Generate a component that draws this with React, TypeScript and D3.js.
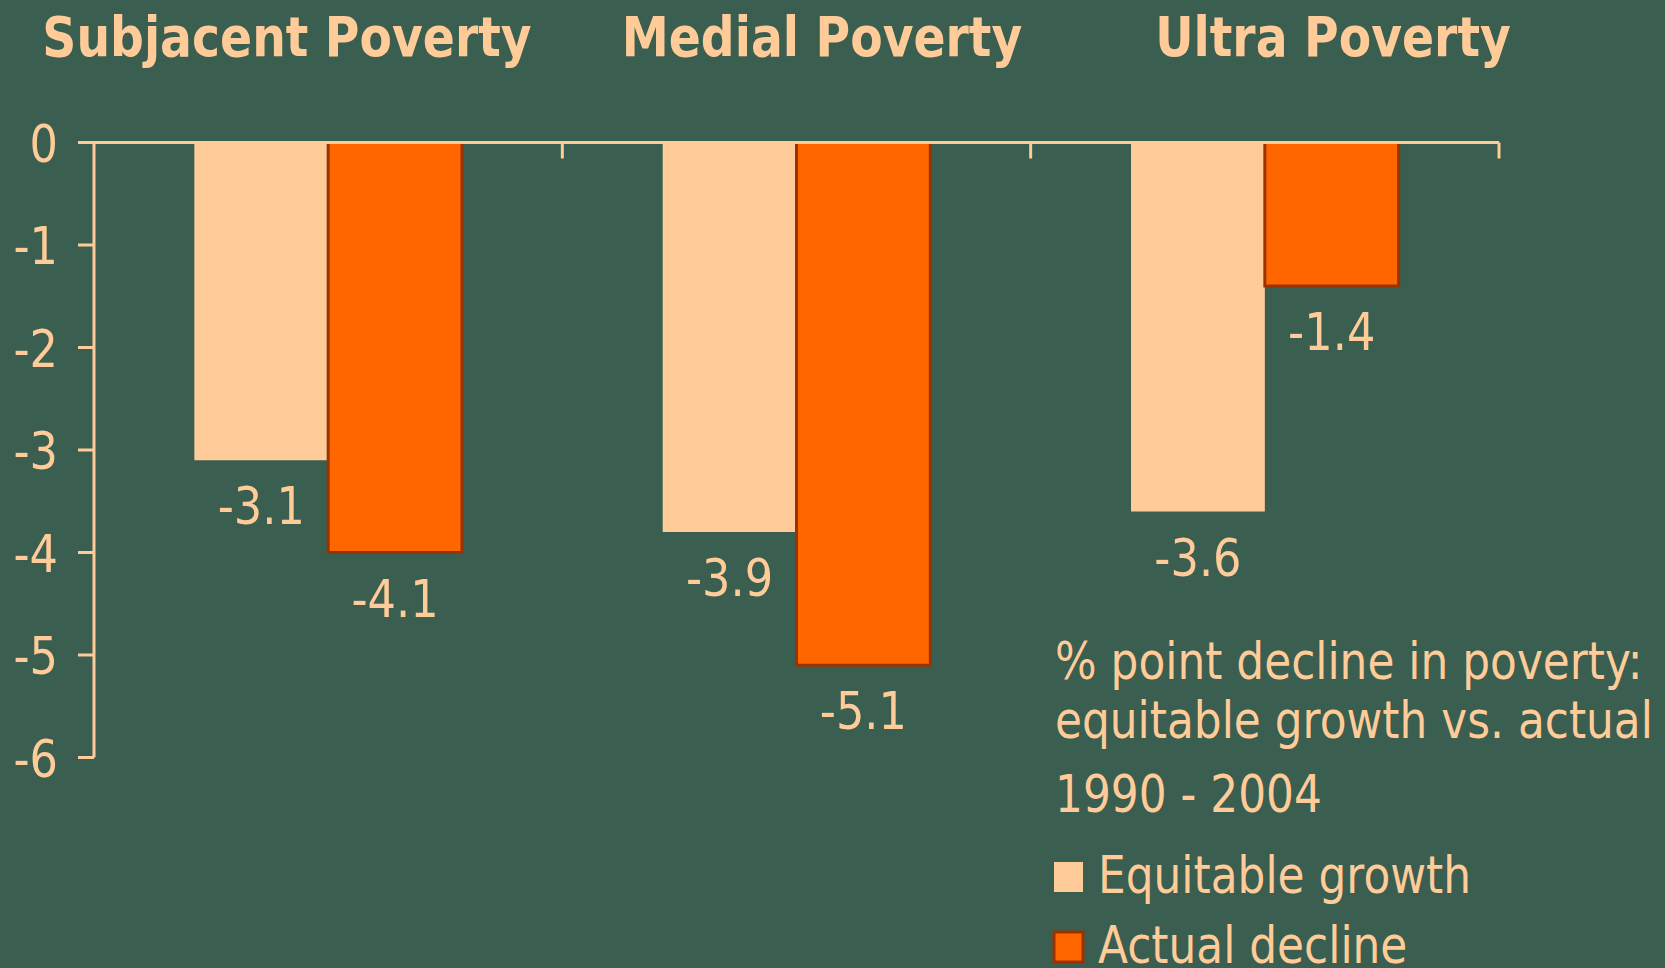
import React from "react";
import * as d3 from "d3";

const width = 1665;
const height = 968;

// chart data
const categories = ["Subjacent Poverty", "Medial Poverty", "Ultra Poverty"];
const seriesNames = ["Equitable growth", "Actual decline"];
const equitableValues = [-3.1, -3.8, -3.6];
const actualValues = [-4.0, -5.1, -1.4];
// data labels as printed on the slide
const equitableLabels = ["-3.1", "-3.9", "-3.6"];
const actualLabels = ["-4.1", "-5.1", "-1.4"];
const yTicks = [0, -1, -2, -3, -4, -5, -6];
const noteLines = [
  "% point decline in poverty:",
  "equitable growth vs. actual",
  "1990 - 2004",
];

const bg = "#3a5e50";
const ink = "#ffcc99";
const fills = ["#ffcc99", "#ff6600"];
const strokes = ["none", "#993300"];
const font = "'DejaVu Sans', Verdana, sans-serif";
const squeeze = 0.86; // the slide text is horizontally compressed

const margin = { left: 94, right: 1499, top: 142.5, bottom: 757.5 };

const T = ({ x, y, size, anchor = "start", bold = false, children }) => (
  <text
    transform={`translate(${x},${y}) scale(${squeeze},1)`}
    textAnchor={anchor}
    fontFamily={font}
    fontSize={size}
    fontWeight={bold ? "bold" : "normal"}
    fill={ink}
  >
    {children}
  </text>
);

export default function App() {
  const x0 = d3
    .scaleBand()
    .domain(categories)
    .range([margin.left, margin.right])
    .padding(0);
  // excel style gap width of 150%
  const barW = x0.bandwidth() / 3.5;
  const x1 = d3
    .scaleBand()
    .domain(seriesNames)
    .range([0, barW * 2])
    .padding(0);
  const y = d3.scaleLinear().domain([0, -6]).range([margin.top, margin.bottom]);

  const series = [
    { name: seriesNames[0], values: equitableValues, labels: equitableLabels },
    { name: seriesNames[1], values: actualValues, labels: actualLabels },
  ];

  // title positions follow the slide's text boxes, not the categories
  const titleX = [287, 822, 1333];
  const noteBase = [679, 738, 812];
  const legendBase = [893, 963];

  return (
    <div style={{ position: "fixed", left: 0, top: 0, width, height, background: bg }}>
      <svg width={width} height={height} style={{ display: "block" }}>
        <rect width={width} height={height} fill={bg} />

        {categories.map((c, i) => (
          <T key={c} x={titleX[i]} y={56} size={55} anchor="middle" bold>
            {c}
          </T>
        ))}

        {series.map((s, si) =>
          categories.map((c, ci) => {
            const v = s.values[ci];
            const bx = x0(c) + barW * 0.75 + x1(s.name);
            const yb = y(v);
            return (
              <g key={s.name + c}>
                <rect
                  x={bx}
                  y={y(0)}
                  width={x1.bandwidth()}
                  height={yb - y(0)}
                  fill={fills[si]}
                  stroke={strokes[si]}
                  strokeWidth={3}
                />
                <T x={bx + x1.bandwidth() / 2} y={yb + 64} size={52} anchor="middle">
                  {s.labels[ci]}
                </T>
              </g>
            );
          })
        )}

        {/* y axis */}
        <line x1={margin.left} x2={margin.left} y1={y(0)} y2={y(-6)} stroke={ink} strokeWidth={3} />
        {yTicks.map((t) => (
          <g key={t}>
            <line x1={margin.left - 16} x2={margin.left} y1={y(t)} y2={y(t)} stroke={ink} strokeWidth={3} />
            <T x={58} y={y(t) + 19} size={52} anchor="end">
              {t === 0 ? "0" : "-" + Math.abs(t)}
            </T>
          </g>
        ))}

        {/* category axis at zero */}
        <line x1={margin.left} x2={margin.right} y1={y(0)} y2={y(0)} stroke={ink} strokeWidth={3} />
        {categories.map((c) => (
          <line
            key={c}
            x1={x0(c) + x0.bandwidth()}
            x2={x0(c) + x0.bandwidth()}
            y1={y(0)}
            y2={y(0) + 16}
            stroke={ink}
            strokeWidth={3}
          />
        ))}

        {noteLines.map((l, i) => (
          <T key={l} x={1055} y={noteBase[i]} size={51}>
            {l}
          </T>
        ))}

        {seriesNames.map((n, i) => (
          <g key={n}>
            <rect
              x={1054}
              y={legendBase[i] - 31}
              width={29}
              height={30}
              fill={fills[i]}
              stroke={strokes[i]}
              strokeWidth={3}
            />
            <T x={1098} y={legendBase[i]} size={51}>
              {n}
            </T>
          </g>
        ))}
      </svg>
    </div>
  );
}
